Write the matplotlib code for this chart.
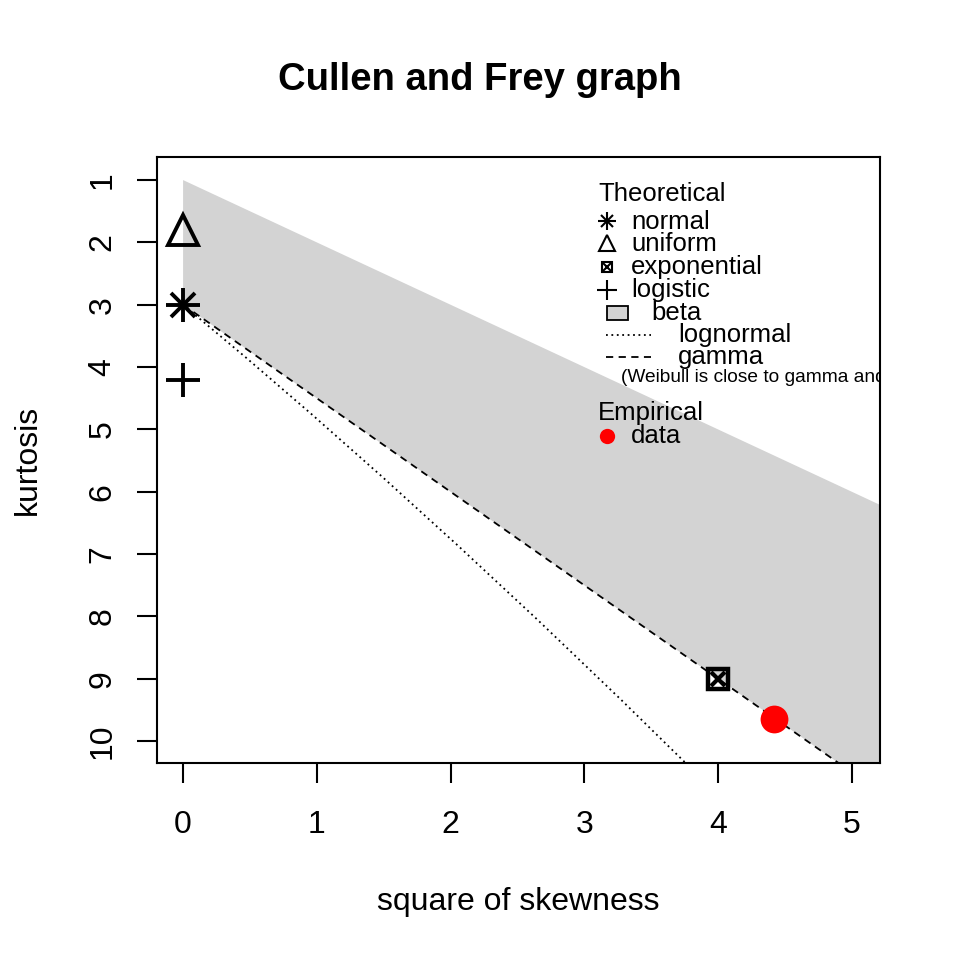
import numpy as np
import matplotlib
matplotlib.use('Agg')
import matplotlib.pyplot as plt
from matplotlib.patches import Rectangle

plt.rcParams['font.family'] = ['Liberation Sans', 'DejaVu Sans']

# observed point (square of skewness, kurtosis)
data_skew2 = [4.42]
data_kurt = [9.64]

# theoretical points
normal_pt = (0.0, 3.0)
uniform_pt = (0.0, 1.8)
expo_pt = (4.0, 9.0)
logis_pt = (0.0, 4.2)

# lognormal curve
lnorm_x = [0.0, 0.465, 0.961, 1.488, 2.048, 2.641, 3.267, 3.928]
lnorm_y = [3.0, 3.838, 4.756, 5.758, 6.850, 8.035, 9.320, 10.710]

# gamma line and beta region edges
gamma_x = [0.0, 6.0]
gamma_y = [3.0, 12.0]
beta_top_x = [0.0, 6.0]
beta_top_y = [1.0, 7.0]

xlim = (-0.195, 5.21)
ylim = (10.35, 0.63)
xticks = [0, 1, 2, 3, 4, 5]
yticks = [1, 2, 3, 4, 5, 6, 7, 8, 9, 10]

fig = plt.figure(figsize=(9.6, 9.6), dpi=100)
ax = fig.add_axes([157/960, 1-763/960, (880-157)/960, (763-157)/960])

# beta area
poly_x = [beta_top_x[0], beta_top_x[1], gamma_x[1], gamma_x[0]]
poly_y = [beta_top_y[0], beta_top_y[1], gamma_y[1], gamma_y[0]]
ax.fill(poly_x, poly_y, color='#d3d3d3', lw=0, zorder=1)

ax.plot(gamma_x, gamma_y, color='black', ls=(0, (4, 3)), lw=1.3, zorder=2)
ax.plot(lnorm_x, lnorm_y, color='black', ls=(0, (1, 2)), lw=1.3, zorder=2)

mw = 2.8
ax.plot(*normal_pt, marker='+', ms=25, mew=mw, color='black', zorder=3)
ax.plot(*normal_pt, marker='x', ms=17, mew=mw, color='black', zorder=3)
ax.plot(*uniform_pt, marker='^', ms=22, mew=mw, mfc='none', mec='black', zorder=3)
ax.plot(*logis_pt, marker='+', ms=25, mew=mw, color='black', zorder=3)
ax.plot(*expo_pt, marker='s', ms=14.5, mew=3.2, mfc='none', mec='black', zorder=3)
ax.plot(*expo_pt, marker='x', ms=10.5, mew=3, color='black', zorder=3)
ax.plot(data_skew2, data_kurt, 'o', ms=20, color='red', mec='none', zorder=4)

ax.set_xlim(*xlim)
ax.set_ylim(*ylim)
ax.set_xticks(xticks)
ax.set_yticks(yticks)
ax.set_yticklabels([str(v) for v in yticks], rotation=90, va='center')
ax.tick_params(direction='out', length=14.5, width=1.5, labelsize=23, pad=19)
ax.tick_params(axis='y', pad=14)
for s in ax.spines.values():
    s.set_linewidth(1.5)

ax.set_xlabel('square of skewness', fontsize=23, labelpad=34)
ax.set_ylabel('kurtosis', fontsize=23, labelpad=32)
fig.text(0.5, 1-80/960, 'Cullen and Frey graph', ha='center', va='center',
         fontsize=27.5, fontweight='bold')

# hand-made legend in pixel positions
def fx(px):
    return px/960
def fy(py):
    return 1-py/960

lfs = 18.5
fig.text(fx(598), fy(194), 'Theoretical', fontsize=lfs, va='center')
leg_pts = [('normal', 222), ('uniform', 244), ('exponential', 267), ('logistic', 290)]
for name, py in leg_pts:
    fig.text(fx(631), fy(py), name, fontsize=lfs, va='center')
lm = dict(color='black', transform=fig.transFigure, clip_on=False)
fig.lines.append(plt.Line2D([fx(607)], [fy(221)], marker='+', ms=12.5, mew=1.5, **lm))
fig.lines.append(plt.Line2D([fx(607)], [fy(221)], marker='x', ms=8.8, mew=1.5, **lm))
fig.lines.append(plt.Line2D([fx(607)], [fy(243)], marker='^', ms=12, mew=1.5, mfc='none', **lm))
fig.lines.append(plt.Line2D([fx(607)], [fy(267)], marker='s', ms=7.5, mew=1.5, mfc='none', **lm))
fig.lines.append(plt.Line2D([fx(607)], [fy(267)], marker='x', ms=5.5, mew=1.5, **lm))
fig.lines.append(plt.Line2D([fx(607)], [fy(290)], marker='+', ms=14, mew=1.5, **lm))
fig.patches.append(Rectangle((fx(607), fy(320)), 21/960, 14/960, transform=fig.transFigure,
                             facecolor='#d3d3d3', edgecolor='black', lw=1.3))
fig.text(fx(651), fy(313), 'beta', fontsize=lfs, va='center')
fig.lines.append(plt.Line2D([fx(606), fx(651)], [fy(335), fy(335)], ls=(0, (1, 2)), lw=1.3, **lm))
fig.text(fx(678), fy(335), 'lognormal', fontsize=lfs, va='center')
fig.lines.append(plt.Line2D([fx(606), fx(651)], [fy(357), fy(357)], ls=(0, (4, 3)), lw=1.3, **lm))
fig.text(fx(678), fy(357), 'gamma', fontsize=lfs, va='center')
ax.text(fx(621), fy(378), '(Weibull is close to gamma and lognormal)', fontsize=13.8, va='center',
        transform=fig.transFigure, clip_on=True)
fig.text(fx(598), fy(413), 'Empirical', fontsize=lfs, va='center')
fig.lines.append(plt.Line2D([fx(607)], [fy(436)], marker='o', ms=11, mec='none', color='red',
                            transform=fig.transFigure))
fig.text(fx(631), fy(436), 'data', fontsize=lfs, va='center')

fig.savefig('out.png', dpi=100)
